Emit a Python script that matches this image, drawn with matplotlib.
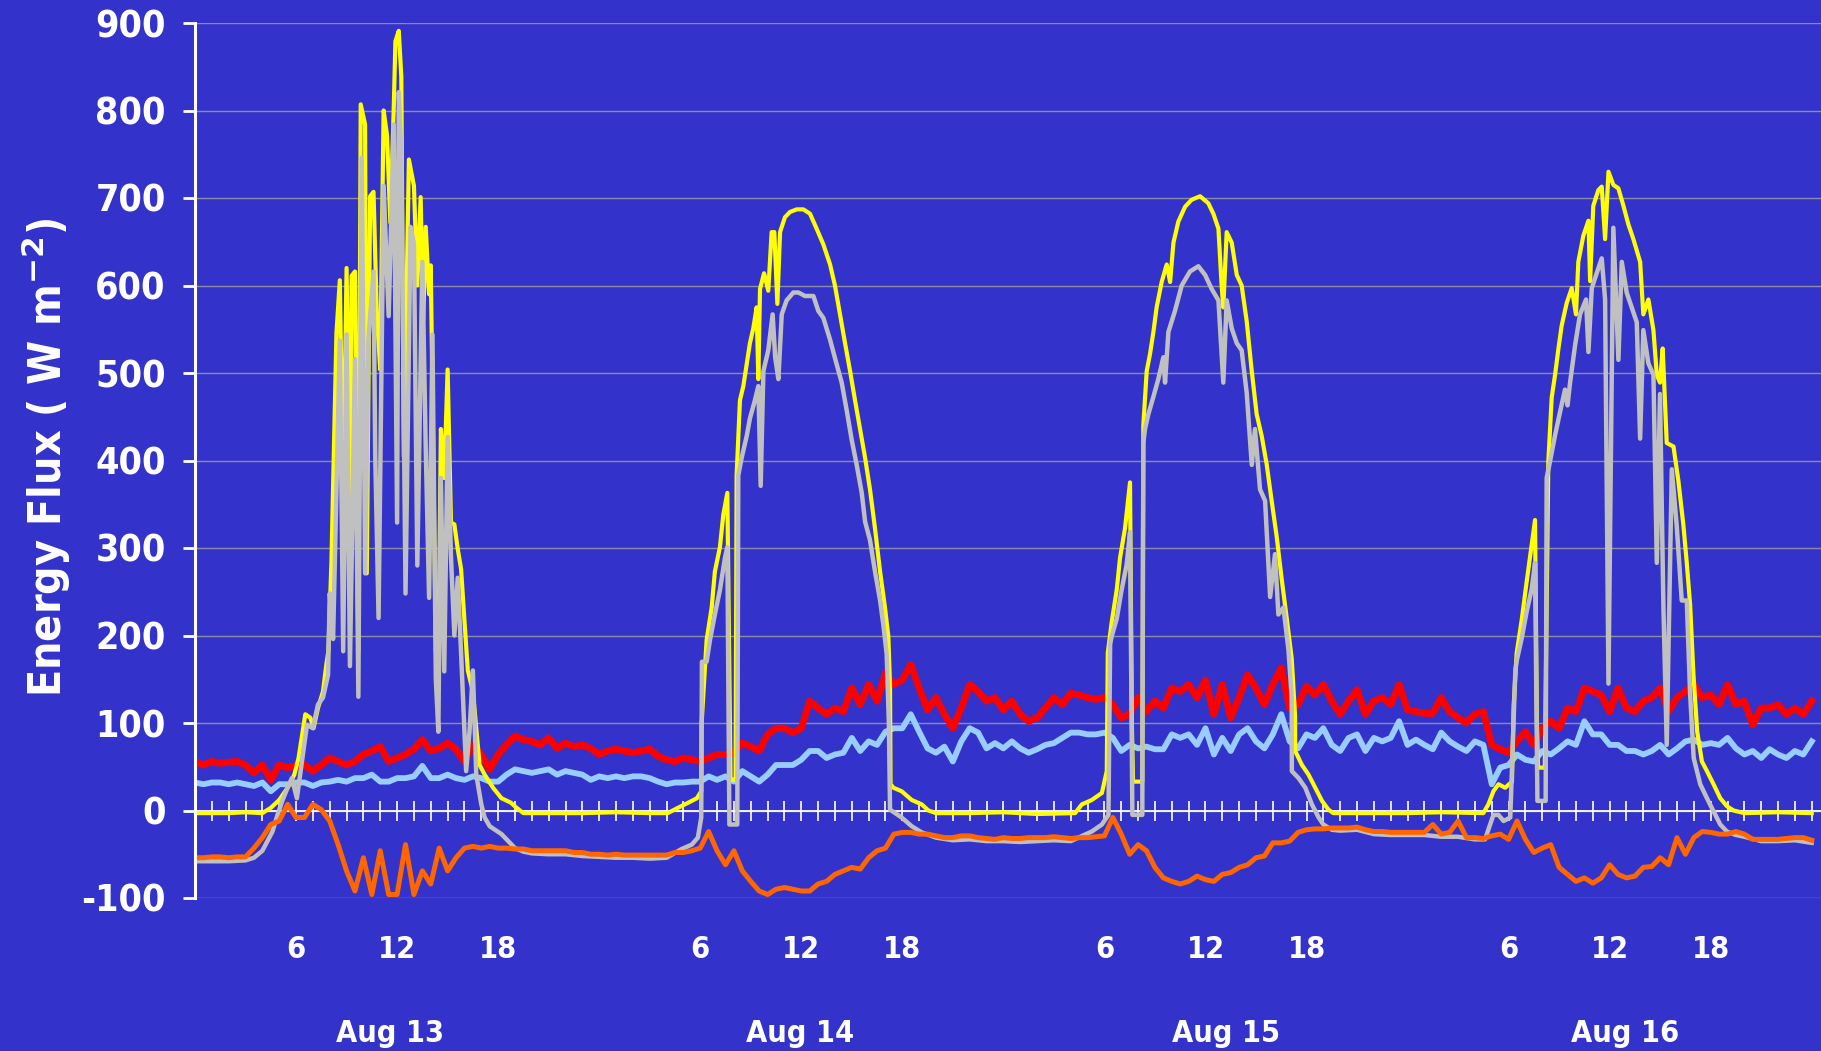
import numpy as np
import matplotlib
matplotlib.use("Agg")
import matplotlib.pyplot as plt

plt.rcParams["font.family"] = ["DejaVu Sans"]
plt.rcParams["axes.unicode_minus"] = False
plt.rcParams["mathtext.fontset"] = "dejavusans"
plt.rcParams["mathtext.default"] = "bf"

# ---------------- data (hours since 00:00 Aug 13) ----------------
hours = np.arange(0, 96.5, 0.5)   # half-hourly grid for the turbulent / storage fluxes

latent_heat = [
    56, 52, 56, 54, 55, 56, 52, 43, 52, 35, 52, 49, 51, 52, 45, 52, 60, 56, 52, 56, 64, 68, 73, 56,
    60, 64, 70, 81, 68, 71, 77, 70, 56, 75, 64, 47, 64, 75, 85, 81, 79, 75, 83, 71, 77, 73, 75, 71,
    64, 68, 70, 68, 66, 68, 70, 62, 58, 56, 60, 58, 56, 60, 64, 64, 66, 77, 73, 68, 87, 94, 94, 89,
    94, 125, 117, 110, 117, 113, 140, 121, 144, 125, 157, 144, 149, 167, 140, 115, 129, 110, 94, 117, 144, 136, 125, 129,
    115, 125, 110, 102, 106, 117, 129, 121, 134, 132, 129, 127, 129, 121, 106, 110, 129, 113, 125, 117, 140, 136, 144, 129,
    149, 110, 144, 106, 129, 155, 140, 121, 144, 163, 117, 121, 142, 132, 144, 125, 110, 125, 138, 110, 125, 129, 121, 144,
    115, 113, 111, 111, 129, 113, 106, 100, 110, 113, 75, 70, 66, 79, 90, 75, 94, 102, 94, 117, 113, 140, 136, 132,
    113, 140, 117, 113, 125, 129, 140, 113, 129, 136, 144, 129, 132, 121, 144, 121, 125, 98, 117, 117, 121, 110, 117, 110,
    125]

sensible_heat = [
    32, 30, 32, 32, 30, 32, 30, 28, 32, 22, 30, 30, 32, 32, 28, 32, 33, 35, 33, 37, 37, 41, 33, 33,
    37, 37, 39, 51, 37, 37, 41, 37, 35, 39, 37, 33, 33, 41, 47, 45, 43, 45, 47, 41, 45, 43, 41, 35,
    39, 37, 39, 37, 39, 39, 37, 33, 30, 32, 32, 33, 33, 39, 35, 39, 33, 45, 39, 33, 41, 52, 52, 52,
    58, 68, 68, 60, 64, 66, 83, 68, 79, 75, 90, 94, 94, 110, 90, 71, 66, 73, 56, 79, 94, 89, 71, 77,
    71, 79, 71, 66, 70, 75, 77, 83, 89, 89, 87, 87, 89, 83, 68, 75, 71, 73, 70, 70, 87, 83, 87, 75,
    94, 64, 83, 68, 87, 94, 79, 71, 87, 110, 79, 71, 87, 83, 94, 75, 68, 83, 87, 68, 83, 79, 83, 102,
    75, 81, 75, 70, 89, 79, 73, 68, 79, 75, 30, 49, 52, 64, 58, 56, 68, 64, 71, 79, 75, 102, 87, 87,
    75, 75, 68, 68, 64, 68, 75, 64, 71, 79, 81, 75, 77, 75, 83, 71, 64, 68, 60, 70, 64, 60, 68, 64,
    79]

storage_heat = [
    -54, -54, -53, -53, -54, -53, -53, -43, -31, -16, -12, 7, -8, -8, 7, 1, -12, -39, -69, -92, -54, -96, -46, -96,
    -96, -39, -96, -69, -84, -43, -69, -54, -43, -41, -43, -41, -43, -43, -44, -44, -46, -46, -46, -46, -46, -48, -48, -50,
    -50, -51, -50, -51, -51, -51, -51, -51, -51, -48, -48, -46, -43, -24, -46, -62, -46, -69, -81, -92, -96, -90, -88, -90,
    -92, -92, -84, -81, -73, -69, -65, -67, -54, -46, -43, -27, -25, -25, -27, -27, -29, -31, -31, -29, -29, -31, -32, -33,
    -31, -32, -32, -31, -31, -31, -30, -31, -32, -31, -31, -30, -29, -8, -27, -50, -39, -46, -65, -77, -81, -84, -81, -75,
    -79, -81, -73, -71, -65, -62, -54, -52, -37, -37, -35, -25, -22, -21, -21, -20, -20, -20, -19, -22, -24, -24, -25, -25,
    -25, -25, -25, -16, -27, -25, -12, -31, -31, -32, -29, -27, -33, -12, -33, -48, -43, -39, -65, -73, -81, -77, -83, -77,
    -62, -73, -77, -75, -65, -64, -54, -62, -31, -50, -31, -24, -25, -27, -27, -24, -27, -33, -33, -33, -33, -32, -31, -31,
    -34]

# (hour, value) readings for the radiation curves
shortwave_in = [
    (0, -3), (1, -3), (2, -3), (3, -2), (4, -3), (4.5, 3), (5.0, 12), (5.5, 26), (5.9, 41), (6.15, 60),
    (6.55, 110), (6.85, 106), (7.04, 94), (7.3, 117), (7.6, 136), (7.8, 167), (7.92, 182), (8.1, 283),
    (8.4, 546), (8.6, 606), (8.8, 357), (9.0, 620), (9.2, 330), (9.3, 611), (9.5, 616), (9.7, 182),
    (9.84, 807), (10.1, 784), (10.2, 271), (10.4, 702), (10.6, 707), (10.8, 565), (11.0, 504), (11.2, 800),
    (11.4, 772), (11.6, 672), (11.8, 802), (11.9, 879), (12.1, 891), (12.25, 839), (12.4, 404), (12.7, 744),
    (13.0, 714), (13.2, 600), (13.4, 701), (13.55, 560), (13.7, 667), (13.9, 590), (14.0, 623), (14.3, 182),
    (14.45, 150), (14.6, 436), (14.8, 380), (15.0, 504), (15.2, 329), (15.4, 327), (15.6, 299), (15.8, 276),
    (16.0, 217), (16.2, 160), (16.5, 136), (16.7, 94), (16.9, 52), (17.2, 41), (17.7, 26), (18.2, 14),
    (18.75, 9), (19.1, 3), (19.5, -3), (21, -3), (23, -3), (25, -2), (27, -3), (28.07, -3), (28.67, 3),
    (29.3, 9), (29.8, 14), (30.06, 22), (30.08, 99), (30.38, 195), (30.68, 232), (30.87, 273), (31.17, 301),
    (31.37, 338), (31.61, 363), (31.75, 120), (31.8, 35), (32.1, 35), (32.16, 383), (32.36, 469), (32.56, 485),
    (32.76, 510), (32.95, 534), (33.15, 551), (33.35, 575), (33.45, 493), (33.55, 596), (33.79, 614),
    (34.04, 594), (34.24, 661), (34.4, 661), (34.58, 579), (34.74, 661), (35.03, 678), (35.33, 684),
    (35.73, 687), (36.12, 687), (36.52, 682), (36.91, 665), (37.31, 647), (37.71, 624), (38.0, 600),
    (38.3, 567), (38.6, 534), (38.9, 502), (39.19, 469), (39.49, 436), (39.79, 403), (40.08, 367),
    (40.38, 322), (40.68, 273), (40.97, 232), (41.17, 199), (41.27, 142), (41.3, 30), (41.47, 26),
    (41.96, 22), (42.56, 12), (43.15, 7), (43.55, 0), (44, -3), (46, -3), (48, -2), (50, -4), (52.26, -3),
    (52.66, 7), (53.25, 12), (53.85, 20), (54.14, 45), (54.2, 180), (54.43, 215), (54.73, 252), (54.93, 289),
    (55.22, 322), (55.52, 375), (55.63, 100), (55.7, 33), (56.25, 33), (56.31, 440), (56.51, 502),
    (56.71, 522), (56.91, 547), (57.1, 575), (57.4, 604), (57.7, 624), (57.9, 604), (58.1, 649), (58.39, 673),
    (58.79, 690), (59.18, 698), (59.68, 702), (60.17, 694), (60.47, 682), (60.77, 665), (60.96, 600),
    (61.06, 575), (61.26, 661), (61.56, 649), (61.86, 612), (62.15, 600), (62.45, 559), (62.75, 502),
    (63.04, 453), (63.34, 428), (63.64, 395), (63.93, 354), (64.23, 313), (64.53, 264), (64.83, 219),
    (65.12, 174), (65.32, 109), (65.33, 68), (65.73, 52), (66.12, 41), (66.52, 26), (66.92, 11), (67.3, 1),
    (67.6, -3), (70, -3), (72, -3), (74, -2), (76.5, -3), (76.8, 7), (77.1, 22), (77.4, 30), (77.8, 26),
    (78.2, 33), (78.3, 120), (78.48, 180), (78.78, 218), (79.07, 261), (79.37, 304), (79.57, 332),
    (79.68, 100), (79.75, 49), (80.15, 49), (80.36, 399), (80.56, 472), (80.76, 498), (80.96, 528),
    (81.15, 554), (81.45, 580), (81.75, 597), (82.0, 567), (82.14, 627), (82.44, 657), (82.74, 674),
    (82.84, 605), (83.03, 691), (83.33, 709), (83.53, 713), (83.73, 653), (83.93, 730), (84.22, 715),
    (84.52, 711), (84.82, 691), (85.11, 670), (85.41, 653), (85.81, 627), (86.0, 567), (86.3, 584),
    (86.6, 549), (86.8, 498), (86.99, 489), (87.15, 528), (87.39, 420), (87.79, 416), (88.08, 377),
    (88.38, 326), (88.58, 283), (88.78, 235), (88.98, 154), (89.2, 90), (89.48, 56), (89.78, 45),
    (90.17, 30), (90.57, 14), (90.96, 5), (91.36, 0), (92, -3), (94, -2), (96, -3)]

net_radiation = [
    (0, -58), (1, -58), (2, -58), (3, -57), (3.5, -54), (4.0, -46), (4.6, -24), (4.9, -5), (5.2, 12),
    (5.5, 26), (5.75, 37), (6.05, 14), (6.35, 56), (6.65, 98), (7.0, 94), (7.3, 121), (7.6, 129), (7.9, 155),
    (8.0, 248), (8.2, 196), (8.6, 537), (8.8, 182), (9.0, 544), (9.2, 165), (9.5, 516), (9.7, 130),
    (9.9, 746), (10.1, 271), (10.3, 539), (10.6, 616), (10.7, 408), (10.9, 220), (11.2, 714), (11.5, 565),
    (11.8, 784), (12.0, 329), (12.1, 821), (12.25, 751), (12.5, 248), (12.8, 667), (13.0, 648), (13.2, 280),
    (13.5, 627), (13.7, 415), (13.9, 243), (14.1, 544), (14.3, 150), (14.45, 90), (14.6, 380), (14.8, 159),
    (15.0, 427), (15.2, 290), (15.4, 200), (15.6, 266), (15.8, 180), (16.1, 45), (16.3, 90), (16.5, 160),
    (16.7, 41), (17.0, 7), (17.2, -8), (17.5, -18), (18.2, -27), (19.0, -43), (19.5, -47), (20, -49),
    (21, -50), (22, -50), (23, -52), (24, -53), (25, -54), (26, -54), (27, -55), (28, -54), (28.9, -44),
    (29.5, -39), (29.86, -31), (30.06, -8), (30.1, 170), (30.38, 170), (30.58, 195), (30.87, 224),
    (31.17, 252), (31.47, 289), (31.61, 301), (31.73, -16), (32.2, -16), (32.26, 383), (32.46, 403),
    (32.76, 428), (32.95, 448), (33.25, 469), (33.45, 485), (33.59, 371), (33.75, 502), (34.04, 526),
    (34.3, 567), (34.45, 518), (34.64, 493), (34.84, 567), (35.13, 583), (35.53, 592), (35.83, 592),
    (36.22, 588), (36.72, 588), (37.01, 571), (37.31, 563), (37.71, 538), (38.1, 510), (38.4, 489),
    (38.7, 457), (38.99, 424), (39.29, 395), (39.59, 363), (39.79, 330), (40.08, 309), (40.38, 273),
    (40.68, 240), (40.88, 211), (41.07, 179), (41.2, 100), (41.27, 1), (41.96, -8), (42.56, -18),
    (43.15, -25), (44, -31), (45, -34), (46, -33), (47, -35), (48, -35), (49, -36), (50, -35), (51, -34),
    (52, -35), (52.46, -31), (53.25, -24), (53.85, -16), (54.24, -5), (54.34, 190), (54.43, 199),
    (54.73, 219), (55.02, 252), (55.32, 281), (55.52, 318), (55.66, -5), (56.25, -5), (56.31, 420),
    (56.41, 436), (56.61, 453), (56.91, 473), (57.2, 493), (57.5, 518), (57.6, 489), (57.8, 547),
    (58.19, 571), (58.59, 600), (59.08, 616), (59.58, 622), (59.98, 612), (60.37, 596), (60.77, 583),
    (61.06, 489), (61.26, 583), (61.56, 551), (61.86, 534), (62.15, 526), (62.45, 477), (62.75, 395),
    (62.94, 436), (63.24, 367), (63.54, 354), (63.84, 244), (64.13, 293), (64.33, 224), (64.63, 232),
    (64.93, 183), (65.12, 129), (65.13, 45), (65.53, 37), (65.93, 26), (66.32, 7), (66.72, -8), (67.0, -16),
    (67.5, -22), (68, -23), (69, -22), (70, -27), (71, -28), (72, -28), (73, -28), (74, -30), (75, -30),
    (76, -33), (76.6, -33), (77.1, -5), (77.4, -5), (77.7, -12), (78.1, -8), (78.4, 160), (78.48, 171),
    (78.78, 197), (79.07, 227), (79.37, 253), (79.57, 283), (79.71, 11), (80.2, 11), (80.26, 380),
    (80.46, 399), (80.76, 429), (81.05, 455), (81.35, 481), (81.5, 463), (81.65, 489), (81.95, 532),
    (82.24, 567), (82.6, 584), (82.74, 524), (82.94, 597), (83.23, 614), (83.53, 631), (83.73, 584),
    (83.93, 145), (84.22, 666), (84.52, 515), (84.72, 627), (85.01, 592), (85.31, 575), (85.61, 558),
    (85.81, 425), (86.0, 549), (86.3, 511), (86.6, 498), (86.8, 283), (86.99, 476), (87.19, 235),
    (87.39, 75), (87.69, 390), (87.98, 326), (88.28, 240), (88.58, 240), (88.78, 132), (88.99, 60),
    (89.38, 30), (89.78, 14), (90.17, -1), (90.57, -16), (90.96, -24), (91.5, -28), (92, -30), (93, -35),
    (94, -35), (95, -34), (96, -37)]

hour_ticks = [6, 12, 18, 30, 36, 42, 54, 60, 66, 78, 84, 90]
hour_labels = ["6", "12", "18"] * 4
day_positions = [11.6, 35.9, 61.2, 84.9]
day_labels = ["Aug 13", "Aug 14", "Aug 15", "Aug 16"]
y_ticks = list(range(-100, 901, 100))

# ---------------- styling ----------------
BG = "#3333cc"
W, H = 1821, 1051
fig = plt.figure(figsize=(W / 100, H / 100), dpi=100, facecolor=BG)
ax = fig.add_axes([195 / W, 1 - 898 / H, 1 - 195 / W, (898 - 23) / H])
ax.set_facecolor(BG)
ax.set_xlim(0, 96.55)
ax.set_ylim(-100, 900)

for s in ("top", "right", "bottom"):
    ax.spines[s].set_visible(False)
ax.spines["left"].set_color("white")
ax.spines["left"].set_linewidth(2.2)

ax.set_yticks(y_ticks)
ax.tick_params(axis="y", direction="out", length=9, width=2, color="white",
               labelcolor="white", labelsize=27, pad=12)
for lab in ax.get_yticklabels():
    lab.set_fontweight("bold")
    lab.set_fontstretch("condensed")
ax.set_xticks([])
ax.yaxis.grid(True, color="#8c8ca8", linewidth=1.0)
ax.set_axisbelow(True)

# zero line with hourly tick marks
ax.axhline(0, color="white", lw=1.3, zorder=1.5)
tick_hours = np.arange(1, 97)
ax.plot(tick_hours, np.zeros(len(tick_hours)), ls="none", marker="|", ms=14,
        mew=1.2, color="white", zorder=1.5)

sw_h, sw_v = zip(*shortwave_in)
nr_h, nr_v = zip(*net_radiation)

ax.plot(hours, sensible_heat, color="#99ccff", lw=4.2, zorder=2)
ax.plot(hours, latent_heat, color="#ff0000", lw=5.0, zorder=2.1)
ax.plot(sw_h, sw_v, color="#ffff00", lw=3.0, zorder=2.2)
ax.plot(nr_h, nr_v, color="#c0c0c0", lw=3.2, zorder=2.3)
ax.plot(hours, storage_heat, color="#ff6600", lw=3.6, zorder=2.4)

xt = ax.get_xaxis_transform()
for h, lab in zip(hour_ticks, hour_labels):
    ax.text(h, -(958 - 898) / 875, lab, transform=xt, ha="center", va="baseline",
            color="white", fontsize=22, fontweight="bold", fontstretch="condensed")
for h, lab in zip(day_positions, day_labels):
    ax.text(h, -(1042 - 898) / 875, lab, transform=xt, ha="center", va="baseline",
            color="white", fontsize=22, fontweight="bold", fontstretch="condensed")

fig.text(46 / W, 1 - 457 / H, "Energy Flux ( W m$^{-2}$)", rotation=90,
         ha="center", va="center", color="white", fontsize=32, fontweight="bold",
         fontstretch="condensed")

fig.savefig("out.png", dpi=100, facecolor=BG)
